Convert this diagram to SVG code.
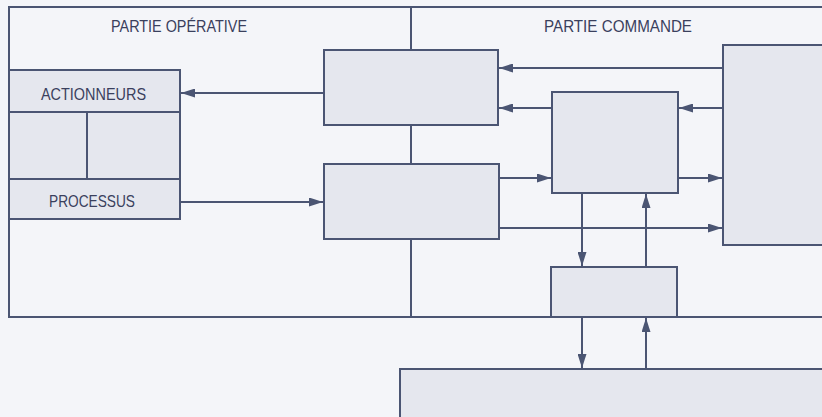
<svg xmlns="http://www.w3.org/2000/svg" width="822" height="417" viewBox="0 0 822 417">
<defs>
<style>
.ln{stroke:#4b5573;stroke-width:2;fill:none}
.bx{stroke:#4b5573;stroke-width:2;fill:#e5e7ee}
.t{font-family:"Liberation Sans",Arial,sans-serif;font-size:17px;fill:#3a405d}
</style>
<marker id="ah" viewBox="0 0 14 9" refX="14" refY="4.5" markerWidth="14" markerHeight="9" markerUnits="userSpaceOnUse" orient="auto">
<path d="M0,0 L14,4.5 L0,9 z" fill="#4b5573"/>
</marker>
</defs>
<rect width="822" height="417" fill="#f4f5f9"/>
<g id="frame">
<path class="ln" d="M830,7 H9 V317 H830"/>
<path class="ln" d="M411,7 V50 M411,125 V164 M411,239 V317"/>
<text class="t" x="111" y="32" textLength="136" lengthAdjust="spacingAndGlyphs">PARTIE OPÉRATIVE</text>
<text class="t" x="544" y="32" textLength="148" lengthAdjust="spacingAndGlyphs">PARTIE COMMANDE</text>
</g>
<g id="operative">
<rect class="bx" x="9" y="70" width="171" height="149"/>
<path class="ln" d="M9,112 H180 M9,179 H180 M87,112 V179"/>
<text class="t" x="41" y="99.5" textLength="105" lengthAdjust="spacingAndGlyphs">ACTIONNEURS</text>
<text class="t" x="49" y="206.5" textLength="86" lengthAdjust="spacingAndGlyphs">PROCESSUS</text>
</g>
<g id="box1"><rect class="bx" x="324" y="50" width="174" height="75"/></g>
<g id="box2"><rect class="bx" x="324" y="164" width="175" height="75"/></g>
<g id="box3"><rect class="bx" x="552" y="92" width="126" height="101"/></g>
<g id="box4"><rect class="bx" x="551" y="267" width="126" height="50"/></g>
<g id="bigbox"><rect class="bx" x="723" y="45" width="110" height="200"/></g>
<g id="box5"><rect class="bx" x="400" y="369" width="440" height="60"/></g>
<g id="connectors">
<path class="ln" marker-end="url(#ah)" d="M324,93 H181"/>
<path class="ln" marker-end="url(#ah)" d="M180,202 H323"/>
<path class="ln" marker-end="url(#ah)" d="M723,68 H499"/>
<path class="ln" marker-end="url(#ah)" d="M552,108 H499"/>
<path class="ln" marker-end="url(#ah)" d="M723,108 H679"/>
<path class="ln" marker-end="url(#ah)" d="M499,178 H551"/>
<path class="ln" marker-end="url(#ah)" d="M678,178 H722"/>
<path class="ln" marker-end="url(#ah)" d="M499,228 H722"/>
<path class="ln" marker-end="url(#ah)" d="M582,193 V266"/>
<path class="ln" marker-end="url(#ah)" d="M646,267 V194"/>
<path class="ln" marker-end="url(#ah)" d="M582,317 V368"/>
<path class="ln" marker-end="url(#ah)" d="M646,369 V318"/>
</g>
</svg>
